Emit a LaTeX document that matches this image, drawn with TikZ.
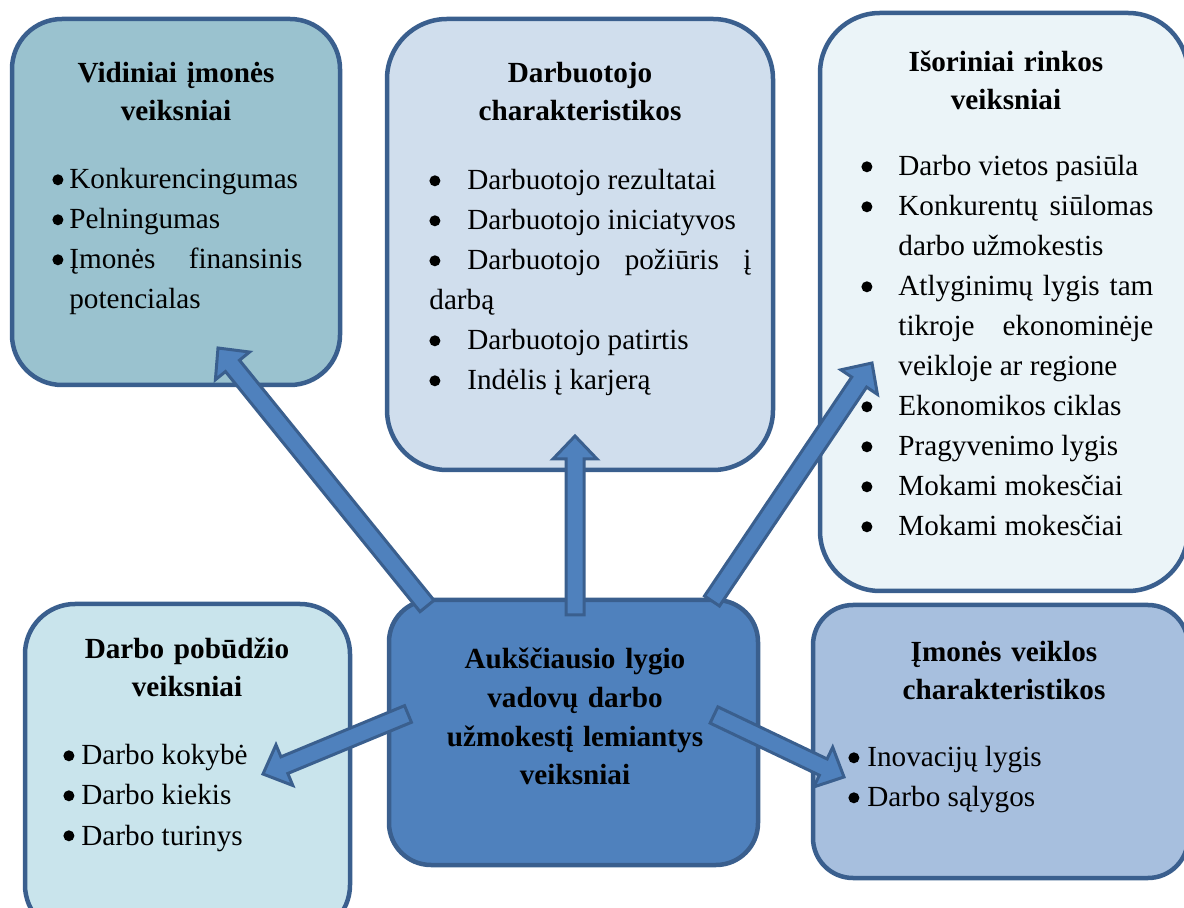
\documentclass[tikz,border=0pt]{standalone}
\usepackage{fontspec}
\setmainfont{Liberation Serif}
\usetikzlibrary{calc}
\definecolor{boxline}{HTML}{3A5F8E}
\definecolor{vidfill}{HTML}{9AC2CF}
\definecolor{darbfill}{HTML}{D0DEED}
\definecolor{isofill}{HTML}{EBF4F8}
\definecolor{pobfill}{HTML}{C9E4EC}
\definecolor{ctrfill}{HTML}{4F81BD}
\definecolor{imofill}{HTML}{A7BFDE}
\hyphenpenalty=10000
\tolerance=10000
\newlength{\bulind}
% round bullet, drawn
\newcommand{\bigbul}{\begin{pgfpicture}\pgfsetbaseline{0pt}%
  \pgfpathcircle{\pgfpoint{2.75pt}{4.6pt}}{2.75pt}\pgfusepath{fill}\end{pgfpicture}}
\newcommand{\bfirst}{\hangindent=\bulind\hangafter=1\noindent\makebox[\bulind][l]{\bigbul}}
\newcommand{\bitem}{\par\bfirst}
\newcommand{\bitemflat}{\par\noindent\makebox[\bulind][l]{\bigbul}}
% block arrow from tail #1 to tip #2
\newcommand{\blockarrow}[2]{%
  \draw[blockarr] let \p1=($(#2)-(#1)$), \n1={atan2(\y1,\x1)}, \n2={veclen(\x1,\y1)},
      \n3={\n2-11.5pt} in
    ($(#1)+(\n1+90:4.5pt)$) -- ($(#1)+(\n1:\n3)+(\n1+90:4.5pt)$)
    -- ($(#1)+(\n1:\n3)+(\n1+90:11pt)$) -- (#2)
    -- ($(#1)+(\n1:\n3)+(\n1-90:11pt)$)
    -- ($(#1)+(\n1:\n3)+(\n1-90:4.5pt)$)
    -- ($(#1)+(\n1-90:4.5pt)$) -- cycle;}

\begin{document}
\begin{tikzpicture}[x=0.5pt, y=-0.5pt,
  factorbox/.style={draw=boxline, line width=2.25pt, inner sep=0pt},
  headtxt/.style={inner sep=0pt, text width=170pt, align=center,
    font=\fontsize{14.6}{19}\selectfont\bfseries},
  listtxt/.style={inner sep=0pt, align=justify,
    font=\fontsize{14.6}{20}\selectfont},
  blockarr/.style={draw=boxline, fill=ctrfill, line width=1.5pt, line join=miter}]

\useasboundingbox (0,0) rectangle (1184,908);
\clip (0,0) rectangle (1184,908);

% Boxes
\node[factorbox, fill=vidfill, rounded corners=25pt, minimum width=164pt, minimum height=183pt] (vid) at (176,202) {};
\node[factorbox, fill=darbfill, rounded corners=30pt, minimum width=193pt, minimum height=225.5pt] (darb) at (580,244.5) {};
\node[factorbox, fill=isofill, rounded corners=30pt, minimum width=184pt, minimum height=289pt] (iso) at (1004,302) {};
\node[factorbox, fill=pobfill, rounded corners=25pt, minimum width=162.5pt, minimum height=165.5pt] (pob) at (187.5,769.5) {};
\node[factorbox, fill=imofill, rounded corners=20pt, minimum width=187.5pt, minimum height=136.5pt] (imo) at (1000.5,741.5) {};
\node[factorbox, fill=ctrfill, rounded corners=21pt, minimum width=184.5pt, minimum height=132.5pt] (ctr) at (573.5,732.5) {};

% Titles
\node[headtxt, anchor=base] (vidHead) at (176,83) {Vidiniai įmonės\\veiksniai};
\node[headtxt, anchor=base] (darbHead) at (580,83) {Darbuotojo\\charakteristikos};
\node[headtxt, anchor=base] (isoHead) at (1006,72) {Išoriniai rinkos\\veiksniai};
\node[headtxt, anchor=base] (pobHead) at (187,659) {Darbo pobūdžio\\veiksniai};
\node[headtxt, anchor=base] (imoHead) at (1004,662) {Įmonės veiklos\\charakteristikos};
\node[headtxt, anchor=base, font=\fontsize{14.6}{19.3}\selectfont\bfseries] (ctrTxt) at (575,669)
  {Aukščiausio lygio\\vadovų darbo\\užmokestį lemiantys\\veiksniai};

% Lists
\node[listtxt, text width=125pt, anchor=base west] (vidList) at (52,189)
  {\setlength{\bulind}{8.5pt}%
   \bfirst Konkurencingumas
   \bitem Pelningumas
   \bitem Įmonės finansinis\linebreak potencialas\par};
\node[listtxt, text width=161pt, anchor=base west] (darbList) at (429,190)
  {\setlength{\bulind}{19pt}%
   \bfirst Darbuotojo rezultatai
   \bitem Darbuotojo iniciatyvos
   \bitemflat Darbuotojo požiūris į\linebreak darbą
   \bitem Darbuotojo patirtis
   \bitem Indėlis į karjerą\par};
\node[listtxt, text width=146pt, anchor=base west] (isoList) at (861,176)
  {\setlength{\bulind}{18.5pt}%
   \bfirst Darbo vietos pasiūla
   \bitem Konkurentų siūlomas\linebreak darbo užmokestis
   \bitem Atlyginimų lygis tam\linebreak tikroje ekonominėje\linebreak veikloje ar regione
   \bitem Ekonomikos ciklas
   \bitem Pragyvenimo lygis
   \bitem Mokami mokesčiai
   \bitem Mokami mokesčiai\par};
\node[listtxt, text width=125pt, anchor=base west] (pobList) at (63,765)
  {\setlength{\bulind}{9pt}%
   \bfirst Darbo kokybė
   \bitem Darbo kiekis
   \bitem Darbo turinys\par};
\node[listtxt, text width=140pt, anchor=base west] (imoList) at (848,767)
  {\setlength{\bulind}{9.5pt}%
   \bfirst Inovacijų lygis
   \bitem Darbo sąlygos\par};

% Arrow ends
\coordinate (vidTail) at (427,606);
\coordinate (vidTip) at (218,348);
\coordinate (darbTail) at (575,615);
\coordinate (darbTip) at (575,436);
\coordinate (isoTail) at (712,601);
\coordinate (isoTip) at (872,363);
\coordinate (pobTail) at (408,714);
\coordinate (pobTip) at (263,774);
\coordinate (imoTail) at (714,715);
\coordinate (imoTip) at (844,777);

% Arrows
\blockarrow{vidTail}{vidTip}
\blockarrow{darbTail}{darbTip}
\blockarrow{isoTail}{isoTip}
\blockarrow{pobTail}{pobTip}
\blockarrow{imoTail}{imoTip}

\end{tikzpicture}
\end{document}
